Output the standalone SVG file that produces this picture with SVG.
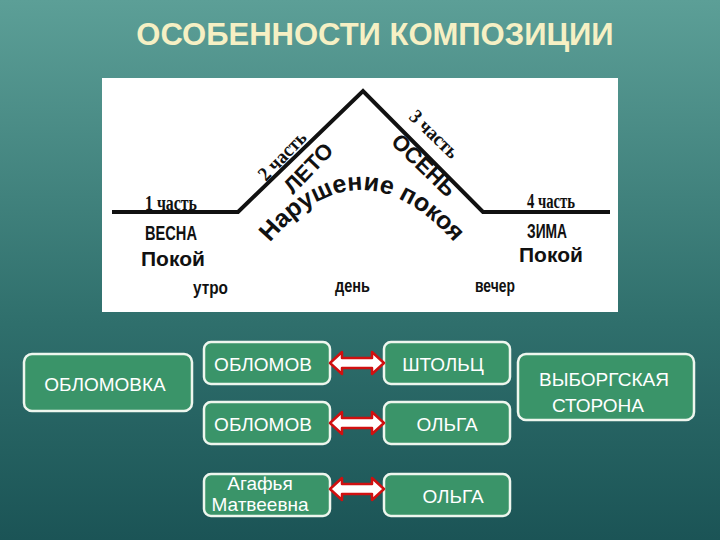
<svg xmlns="http://www.w3.org/2000/svg" width="720" height="540" viewBox="0 0 720 540">
<defs>
<linearGradient id="bg" x1="0" y1="0" x2="0" y2="1">
<stop offset="0" stop-color="#5c9f97"/><stop offset="0.6" stop-color="#2f6f6c"/><stop offset="1" stop-color="#1b5456"/>
</linearGradient>
<path id="arc" d="M272,240 Q360,140 452,240"/>
<path id="dbl" d="M0,0 L12,-11 L12,-5 L42,-5 L42,-11 L54,0 L42,11 L42,5 L12,5 L12,11 Z"/>
</defs>
<style>
.box{fill:#3a9469;stroke:#eef6ee;stroke-width:2.5}
.bt{fill:#fff;font-family:"Liberation Sans",Arial,sans-serif;font-size:19px;text-anchor:middle}
.ser{font-family:"Liberation Serif",serif;font-weight:bold;font-size:20px;fill:#111}
.sn{font-family:"Liberation Sans",Arial,sans-serif;font-weight:bold;fill:#111}
.arr{fill:#fff;stroke:#d01010;stroke-width:2.5;stroke-linejoin:round}
</style>
<rect width="720" height="540" fill="url(#bg)"/>
<text x="375" y="45" text-anchor="middle" font-family="Liberation Sans,Arial,sans-serif" font-weight="bold" font-size="31" fill="#f6f0c4">ОСОБЕННОСТИ КОМПОЗИЦИИ</text>
<g id="panel">
<rect x="102" y="78" width="516" height="234" fill="#fff"/>
<polyline points="112,212 238,212 363,91 483,212 610,212" fill="none" stroke="#111" stroke-width="4"/>
<text class="ser" x="145" y="210" textLength="52" lengthAdjust="spacingAndGlyphs">1 часть</text>
<text class="sn" x="145" y="240" font-size="20" textLength="52" lengthAdjust="spacingAndGlyphs">ВЕСНА</text>
<text class="sn" x="141" y="266" font-size="21">Покой</text>
<text class="sn" x="193" y="294" font-size="18" textLength="35" lengthAdjust="spacingAndGlyphs">утро</text>
<text class="sn" x="335" y="292" font-size="18" textLength="35" lengthAdjust="spacingAndGlyphs">день</text>
<text class="sn" x="475" y="292" font-size="18" textLength="40" lengthAdjust="spacingAndGlyphs">вечер</text>
<text class="ser" x="527" y="208" textLength="48" lengthAdjust="spacingAndGlyphs">4 часть</text>
<text class="sn" x="527" y="238" font-size="20" textLength="40" lengthAdjust="spacingAndGlyphs">ЗИМА</text>
<text class="sn" x="519" y="262" font-size="21">Покой</text>
<text class="ser" transform="translate(266,182) rotate(-46)" textLength="60" lengthAdjust="spacingAndGlyphs">2 часть</text>
<text class="sn" font-size="22" font-weight="normal" transform="translate(293,195) rotate(-46)">ЛЕТО</text>
<text class="ser" transform="translate(408,118) rotate(44)" textLength="60" lengthAdjust="spacingAndGlyphs">3 часть</text>
<text class="sn" font-size="22" font-weight="normal" transform="translate(390,143) rotate(44)">ОСЕНЬ</text>
<text class="sn" font-size="25"><textPath href="#arc" startOffset="50%" text-anchor="middle">Нарушение покоя</textPath></text>
</g>
<g id="oblomovka"><rect class="box" x="24" y="354" width="168" height="57" rx="8"/><text class="bt" x="105" y="391" font-size="20">ОБЛОМОВКА</text></g>
<g id="vyborg"><rect class="box" x="518" y="354" width="176" height="66" rx="8"/><text class="bt" x="604" y="386" font-size="20">ВЫБОРГСКАЯ</text><text class="bt" x="598" y="412" font-size="20">СТОРОНА</text></g>
<g id="r1l"><rect class="box" x="204" y="342" width="126" height="42" rx="7"/><text class="bt" x="263" y="371">ОБЛОМОВ</text></g>
<g id="r1r"><rect class="box" x="384" y="342" width="126" height="42" rx="7"/><text class="bt" x="443" y="371">ШТОЛЬЦ</text></g>
<g id="r2l"><rect class="box" x="204" y="402" width="126" height="42" rx="7"/><text class="bt" x="263" y="431">ОБЛОМОВ</text></g>
<g id="r2r"><rect class="box" x="384" y="402" width="126" height="42" rx="7"/><text class="bt" x="447" y="431">ОЛЬГА</text></g>
<g id="r3l"><rect class="box" x="204" y="474" width="126" height="42" rx="7"/><text class="bt" x="260" y="490" font-size="16">Агафья</text><text class="bt" x="260" y="511" font-size="16">Матвеевна</text></g>
<g id="r3r"><rect class="box" x="384" y="474" width="126" height="42" rx="7"/><text class="bt" x="453" y="503">ОЛЬГА</text></g>
<g id="connectors">
<use href="#dbl" class="arr" x="330" y="363"/>
<use href="#dbl" class="arr" x="330" y="423"/>
<use href="#dbl" class="arr" x="330" y="489"/>
</g>
</svg>
